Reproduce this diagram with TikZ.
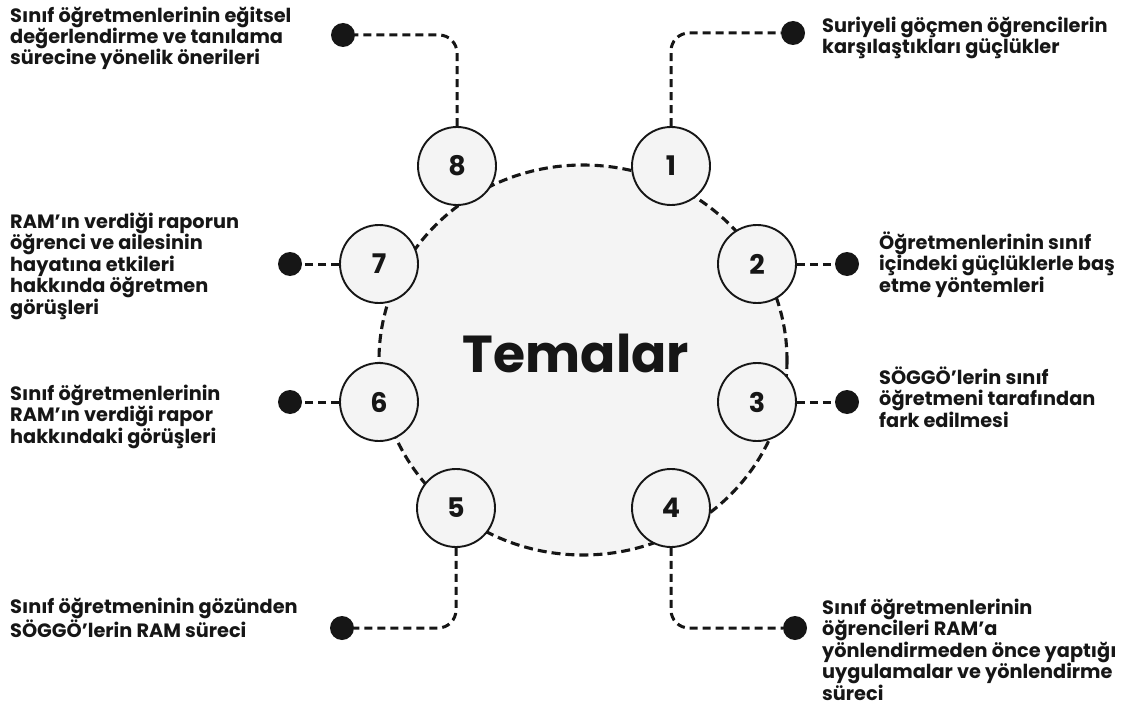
\documentclass[tikz,border=0pt]{standalone}
\usepackage{fontspec}
\setmainfont{Poppins}
\definecolor{ink}{HTML}{161616}
\definecolor{paper}{HTML}{F4F4F4}
\tikzset{
  themenode/.style={circle, draw=ink, line width=1.9pt, fill=paper, minimum size=78pt,
    inner sep=0pt, text=ink, font=\fontsize{27}{27}\selectfont\bfseries},
  link/.style={ink, line width=3pt, dash pattern=on 8pt off 5pt, rounded corners=18pt},
  pin/.style={circle, fill=ink, minimum size=24pt, inner sep=0pt},
  themetext/.style={text=ink, align=left, inner sep=0pt, anchor=base west,
    font=\fontsize{19.3}{21.4}\selectfont\bfseries},
}
\begin{document}
\begin{tikzpicture}[x=1pt, y=-1pt]
  \useasboundingbox (0,0) rectangle (1125,706);
  % big circle
  \draw[ink, fill=paper, line width=3.1pt, dash pattern=on 9pt off 5pt]
    (583,360) ellipse [x radius=204, y radius=195];
  \node[text=ink, font=\fontsize{52}{52}\selectfont\bfseries] (hub) at (576,353) {Temalar};
  % numbered themes
  \foreach \name/\x/\y in {1/671/166, 2/757/264, 3/757/402, 4/671/508,
                           5/456/508, 6/379/402, 7/379/264, 8/457/166}
    \node[themenode] (t\name) at (\x,\y) {\name};
  % end dots
  \foreach \name/\x/\y in {1/793/33, 2/847/264, 3/847/402, 4/795/628,
                           5/342/628, 6/290/402, 7/290/264, 8/343/35}
    \node[pin] (p\name) at (\x,\y) {};
  \draw[link] (t8.north) |- (p8);
  \draw[link] (t1.north) |- (p1);
  \draw[link] (t4.south) |- (p4);
  \draw[link] (t5.south) |- (p5);
  \foreach \name in {2,3,6,7}
    \draw[link] (t\name) -- (p\name);
  % theme texts (placed at the baseline of their last line)
  \node[themetext] (d8) at (10,65)
    {Sınıf öğretmenlerinin eğitsel\\değerlendirme ve tanılama\\sürecine yönelik önerileri};
  \node[themetext] (d1) at (822,54)
    {Suriyeli göçmen öğrencilerin\\karşılaştıkları güçlükler};
  \node[themetext] (d2) at (879,292)
    {Öğretmenlerinin sınıf\\içindeki güçlüklerle baş\\etme yöntemleri};
  \node[themetext] (d3) at (879,427)
    {SÖGGÖ’lerin sınıf\\öğretmeni tarafından\\fark edilmesi};
  \node[themetext] (d4) at (822,700)
    {Sınıf öğretmenlerinin\\öğrencileri RAM’a\\yönlendirmeden önce yaptığı\\uygulamalar ve yönlendirme\\süreci};
  \node[themetext] (d5) at (10,637)
    {Sınıf öğretmeninin gözünden\\SÖGGÖ’lerin RAM süreci};
  \node[themetext] (d6) at (10,443)
    {Sınıf öğretmenlerinin\\RAM’ın verdiği rapor\\hakkındaki görüşleri};
  \node[themetext] (d7) at (10,314)
    {RAM’ın verdiği raporun\\öğrenci ve ailesinin\\hayatına etkileri\\hakkında öğretmen\\görüşleri};
\end{tikzpicture}
\end{document}
